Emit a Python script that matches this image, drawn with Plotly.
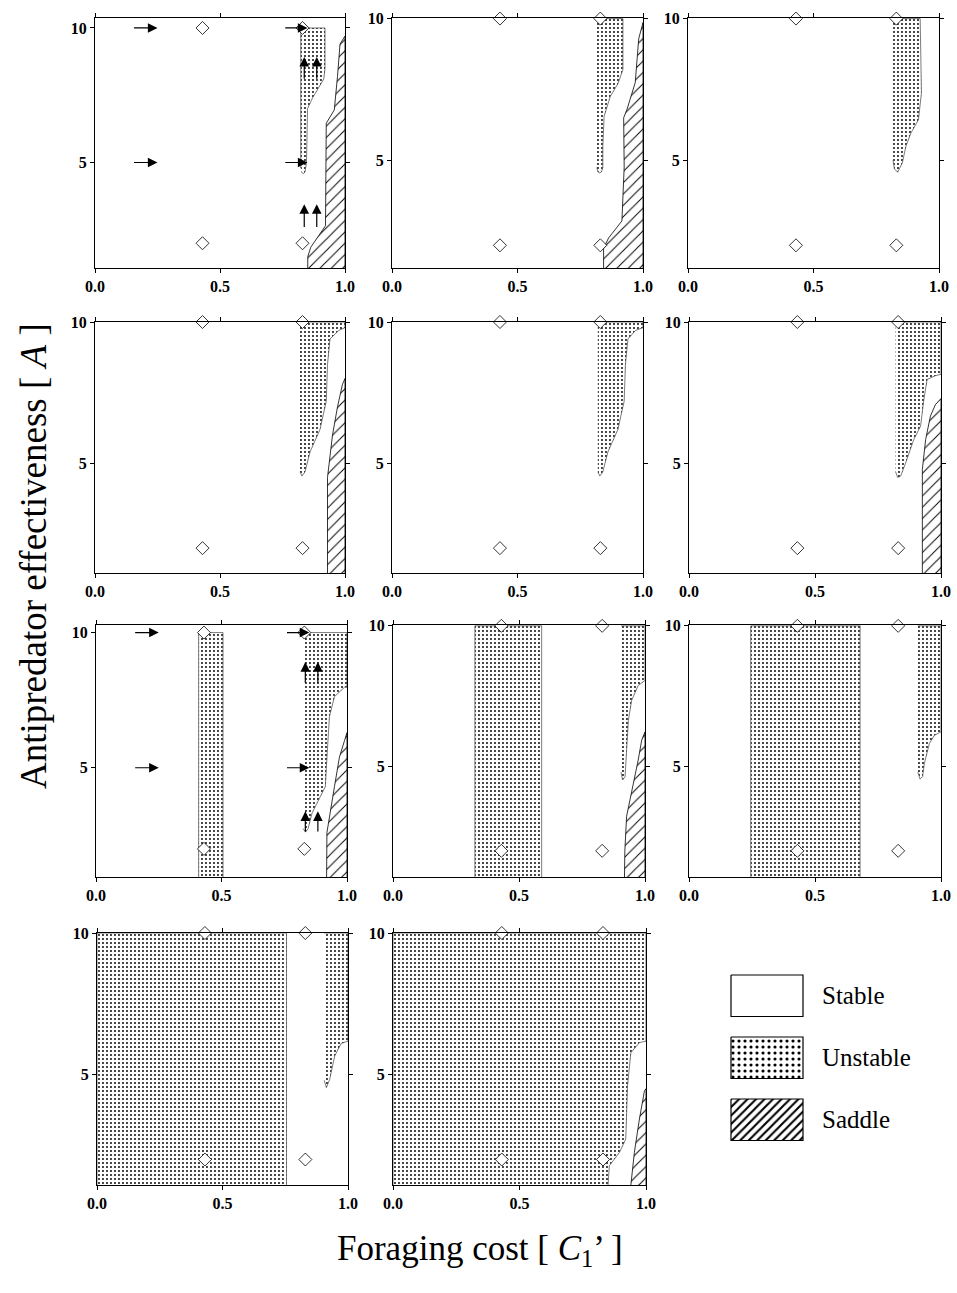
import plotly.graph_objects as go

# ---------------- data ----------------
X_TICKS = [0.0, 0.5, 1.0]
X_TICK_LABELS = ["0.0", "0.5", "1.0"]
Y_TICKS = [5, 10]
Y_TICK_LABELS = ["5", "10"]

DIAMOND_X = [0.43, 0.83, 0.43, 0.83]
DIAMOND_Y = [2, 2, 10, 10]

# panel 1
P1_UNSTABLE_X = [0.823, 0.823, 0.92, 0.92, 0.915, 0.87, 0.85, 0.848, 0.846, 0.84, 0.833, 0.826]
P1_UNSTABLE_Y = [4.8, 10, 10, 8.5, 8.1, 7.4, 7.0, 6.0, 5.0, 4.65, 4.58, 4.65]
P1_SADDLE_X = [0.851, 0.851, 0.863, 0.922, 0.925, 0.957, 0.97, 0.98, 1.0, 1.0]
P1_SADDLE_Y = [0, 1.5, 1.85, 2.65, 6.46, 6.95, 8.2, 9.4, 9.7, 0]
# panel 2
P2_UNSTABLE_X = [0.816, 0.92, 0.92, 0.9, 0.87, 0.845, 0.84, 0.84, 0.835, 0.828, 0.82, 0.816]
P2_UNSTABLE_Y = [10, 10, 8.2, 7.7, 7.26, 6.55, 5.5, 4.75, 4.6, 4.55, 4.6, 4.75]
P2_SADDLE_X = [0.843, 0.843, 0.863, 0.916, 0.925, 0.923, 0.936, 0.969, 0.983, 1.0, 1.0]
P2_SADDLE_Y = [0, 1.9, 2.26, 2.86, 4.76, 6.5, 6.79, 7.74, 9.29, 9.86, 0]
# panel 3
P3_UNSTABLE_X = [0.817, 0.925, 0.93, 0.918, 0.888, 0.868, 0.854, 0.835, 0.822, 0.817]
P3_UNSTABLE_Y = [10, 10, 7.37, 6.43, 5.96, 5.49, 4.91, 4.58, 4.7, 5.0]
# panel 4
P4_UNSTABLE_X = [0.82, 1.0, 1.0, 0.975, 0.94, 0.93, 0.925, 0.9, 0.86, 0.84, 0.828, 0.82]
P4_UNSTABLE_Y = [10, 10, 9.8, 9.7, 9.4, 8.5, 7.2, 6.2, 5.4, 4.7, 4.55, 4.7]
P4_SADDLE_X = [0.93, 0.93, 0.95, 0.97, 0.99, 1.0, 1.0]
P4_SADDLE_Y = [0, 4.5, 6.0, 7.0, 7.8, 8.0, 0]
# panel 5
P5_UNSTABLE_X = [0.82, 1.0, 1.0, 0.97, 0.94, 0.93, 0.925, 0.9, 0.86, 0.84, 0.828, 0.82]
P5_UNSTABLE_Y = [10, 10, 9.8, 9.7, 9.4, 8.5, 7.2, 6.2, 5.4, 4.7, 4.55, 4.7]
# panel 6
P6_UNSTABLE_X = [0.82, 1.0, 1.0, 0.978, 0.945, 0.932, 0.919, 0.892, 0.859, 0.84, 0.828, 0.82]
P6_UNSTABLE_Y = [10, 10, 8.15, 8.1, 7.97, 7.26, 6.32, 5.84, 5.0, 4.55, 4.5, 4.7]
P6_SADDLE_X = [0.926, 0.926, 0.939, 0.958, 0.978, 1.0, 1.0]
P6_SADDLE_Y = [0, 4.78, 5.84, 6.67, 7.08, 7.29, 0]
# panel 7
P7_STRIP_X = [0.409, 0.409, 0.506, 0.506]
P7_STRIP_Y = [0, 10, 10, 0]
P7_UNSTABLE_X = [0.825, 1.0, 1.0, 0.99, 0.95, 0.93, 0.918, 0.914, 0.861, 0.845, 0.835, 0.825]
P7_UNSTABLE_Y = [10, 10, 7.98, 7.98, 7.63, 6.89, 5.05, 4.31, 3.33, 2.75, 2.62, 2.75]
P7_SADDLE_X = [0.918, 0.92, 0.95, 0.97, 0.99, 1.0, 1.0]
P7_SADDLE_Y = [0, 2.6, 4.3, 5.4, 6.0, 6.3, 0]
# panel 8
P8_STRIP_X = [0.325, 0.325, 0.59, 0.59]
P8_STRIP_Y = [0, 10, 10, 0]
P8_UNSTABLE_X = [0.905, 1.0, 1.0, 0.973, 0.947, 0.934, 0.927, 0.921, 0.911, 0.905]
P8_UNSTABLE_Y = [10, 10, 8.06, 7.88, 7.35, 6.64, 5.58, 4.64, 4.52, 4.8]
P8_SADDLE_X = [0.917, 0.92, 0.927, 0.947, 0.973, 0.987, 1.0, 1.0]
P8_SADDLE_Y = [0, 2.0, 3.23, 4.06, 5.23, 5.94, 6.23, 0]
# panel 9
P9_STRIP_X = [0.245, 0.245, 0.679, 0.679]
P9_STRIP_Y = [0, 10, 10, 0]
P9_UNSTABLE_X = [0.908, 1.0, 1.0, 0.974, 0.954, 0.934, 0.927, 0.917, 0.908]
P9_UNSTABLE_Y = [10, 10, 6.23, 6.11, 5.82, 5.11, 4.64, 4.55, 4.8]
# panel 10
P10_STRIP_X = [0.0, 0.0, 0.755, 0.755]
P10_STRIP_Y = [0, 10, 10, 0]
P10_UNSTABLE_X = [0.905, 1.0, 1.0, 0.973, 0.947, 0.927, 0.914, 0.905]
P10_UNSTABLE_Y = [10, 10, 6.18, 6.1, 5.66, 4.83, 4.54, 4.8]
# panel 11
P11_UNSTABLE_X = [0, 0, 1.0, 1.0, 0.974, 0.94, 0.927, 0.92, 0.895, 0.855, 0.842]
P11_UNSTABLE_Y = [0, 10, 10, 6.18, 6.13, 5.77, 4.6, 2.72, 2.25, 1.78, 0]
P11_SADDLE_X = [0.927, 0.954, 0.974, 0.994, 1.0, 1.0]
P11_SADDLE_Y = [0, 2.25, 3.43, 4.43, 4.5, 0]

# arrows (tail -> head)
ARROW_H_TAIL_X = [0.15, 0.755]
ARROW_H_HEAD_X = [0.25, 0.85]
ARROW_H_Y = [10, 5]
P1_ARROW_V_X = [0.837, 0.887]
P1_ARROW_V_TAIL_Y = [2.55, 8.06]
P1_ARROW_V_HEAD_Y = [3.45, 8.92]
P7_ARROW_V_X = [0.834, 0.884]
P7_ARROW_V_TAIL_Y = [2.59, 8.09]
P7_ARROW_V_HEAD_Y = [3.39, 8.91]

LEGEND_LABELS = ["Stable", "Unstable", "Saddle"]

# ---------------- layout helpers ----------------
W, H = 957, 1293
SERIF = "Liberation Serif"

def px_x(p):
    return p / W

def px_y(p):
    return 1 - p / H

# (left, right, top, bottom) in pixels, y range
PANEL_BOX = {
    1: ((95, 345, 18, 268), [1.08, 10.37]),
    2: ((392, 643, 18, 268), [1.2, 10.02]),
    3: ((688, 939, 18, 268), [1.2, 10.02]),
    4: ((95, 345, 322, 573), [1.12, 10.0]),
    5: ((392, 643, 322, 573), [1.12, 10.0]),
    6: ((689, 941, 322, 573), [1.12, 10.0]),
    7: ((96, 347, 625, 877), [0.96, 10.28]),
    8: ((393, 645, 625, 877), [1.07, 10.03]),
    9: ((689, 941, 625, 877), [1.07, 10.03]),
    10: ((97, 348, 933, 1185), [1.1, 10.0]),
    11: ((393, 646, 933, 1185), [1.1, 10.0]),
}

PANELS = {
    1: dict(unstable=[(P1_UNSTABLE_X, P1_UNSTABLE_Y)], saddle=[(P1_SADDLE_X, P1_SADDLE_Y)]),
    2: dict(unstable=[(P2_UNSTABLE_X, P2_UNSTABLE_Y)], saddle=[(P2_SADDLE_X, P2_SADDLE_Y)]),
    3: dict(unstable=[(P3_UNSTABLE_X, P3_UNSTABLE_Y)], saddle=[]),
    4: dict(unstable=[(P4_UNSTABLE_X, P4_UNSTABLE_Y)], saddle=[(P4_SADDLE_X, P4_SADDLE_Y)]),
    5: dict(unstable=[(P5_UNSTABLE_X, P5_UNSTABLE_Y)], saddle=[]),
    6: dict(unstable=[(P6_UNSTABLE_X, P6_UNSTABLE_Y)], saddle=[(P6_SADDLE_X, P6_SADDLE_Y)]),
    7: dict(unstable=[(P7_STRIP_X, P7_STRIP_Y), (P7_UNSTABLE_X, P7_UNSTABLE_Y)], saddle=[(P7_SADDLE_X, P7_SADDLE_Y)]),
    8: dict(unstable=[(P8_STRIP_X, P8_STRIP_Y), (P8_UNSTABLE_X, P8_UNSTABLE_Y)], saddle=[(P8_SADDLE_X, P8_SADDLE_Y)]),
    9: dict(unstable=[(P9_STRIP_X, P9_STRIP_Y), (P9_UNSTABLE_X, P9_UNSTABLE_Y)], saddle=[]),
    10: dict(unstable=[(P10_STRIP_X, P10_STRIP_Y), (P10_UNSTABLE_X, P10_UNSTABLE_Y)], saddle=[]),
    11: dict(unstable=[(P11_UNSTABLE_X, P11_UNSTABLE_Y)], saddle=[(P11_SADDLE_X, P11_SADDLE_Y)]),
}

DOT_PATTERN = dict(shape=".", size=4, solidity=0.18, fgcolor="black", bgcolor="white", fgopacity=1)
HATCH_PATTERN = dict(shape="/", size=8, solidity=0.12, fgcolor="black", bgcolor="white", fgopacity=1)

fig = go.Figure()
layout = dict()

def ax_name(i, kind):
    return kind if i == 1 else f"{kind}{i}"

tick_font = dict(family=SERIF, size=16, color="black", weight="bold")

for i, ((l, r, t, b), yr) in PANEL_BOX.items():
    xa, ya = f"x{i}" if i > 1 else "x", f"y{i}" if i > 1 else "y"
    common = dict(showline=True, linecolor="black", linewidth=1, mirror="ticks",
                  ticks="outside", ticklen=4, tickcolor="black", tickwidth=1,
                  showgrid=False, zeroline=False, automargin=False, tickfont=tick_font)
    layout[ax_name(i, "xaxis")] = dict(domain=[px_x(l), px_x(r)], anchor=ya, range=[0, 1],
                                       tickvals=X_TICKS, ticktext=X_TICK_LABELS, **common)
    layout[ax_name(i, "yaxis")] = dict(domain=[px_y(b), px_y(t)], anchor=xa, range=yr,
                                       tickvals=Y_TICKS, ticktext=Y_TICK_LABELS, **common)
    p = PANELS[i]
    for (px_, py_) in p["unstable"]:
        fig.add_trace(go.Scatter(
            x=px_, y=py_, xaxis=xa, yaxis=ya, mode="lines", fill="toself",
            fillcolor="white", fillpattern=DOT_PATTERN,
            line=dict(color="#444", width=0.7), hoverinfo="skip", showlegend=False))
    for (px_, py_) in p["saddle"]:
        fig.add_trace(go.Scatter(
            x=px_, y=py_, xaxis=xa, yaxis=ya, mode="lines", fill="toself",
            fillcolor="white", fillpattern=HATCH_PATTERN,
            line=dict(color="black", width=0.8), hoverinfo="skip", showlegend=False))
    fig.add_trace(go.Scatter(
        x=DIAMOND_X, y=DIAMOND_Y, xaxis=xa, yaxis=ya, mode="markers",
        marker=dict(symbol="diamond", size=10, color="white", line=dict(color="black", width=0.8)),
        cliponaxis=False, hoverinfo="skip", showlegend=False))

annotations = []

def add_arrow(xa, ya, x0, y0, x1, y1):
    annotations.append(dict(
        xref=xa, yref=ya, axref=xa, ayref=ya, x=x1, y=y1, ax=x0, ay=y0,
        text="", showarrow=True, arrowhead=2, arrowsize=1.6, arrowwidth=1.2,
        arrowcolor="black", standoff=0, startstandoff=0))

for xa, ya, vx, vy0, vy1 in [("x", "y", P1_ARROW_V_X, P1_ARROW_V_TAIL_Y, P1_ARROW_V_HEAD_Y),
                             ("x7", "y7", P7_ARROW_V_X, P7_ARROW_V_TAIL_Y, P7_ARROW_V_HEAD_Y)]:
    for y in ARROW_H_Y:
        for x0, x1 in zip(ARROW_H_TAIL_X, ARROW_H_HEAD_X):
            add_arrow(xa, ya, x0, y, x1, y)
    for x in vx:
        for y0, y1 in zip(vy0, vy1):
            add_arrow(xa, ya, x, y0, x, y1)

# legend panel (pixel coordinate system)
layout["xaxis12"] = dict(domain=[px_x(700), px_x(957)], anchor="y12", range=[700, 957],
                         visible=False, automargin=False)
layout["yaxis12"] = dict(domain=[px_y(1160), px_y(960)], anchor="x12", range=[1160, 960],
                         visible=False, automargin=False)
legend_patterns = [None,
                   dict(shape=".", size=6, solidity=0.22, fgcolor="black", bgcolor="white", fgopacity=1),
                   dict(shape="/", size=6, solidity=0.35, fgcolor="black", bgcolor="white", fgopacity=1)]
box_l, box_r, box_h, box_top0, box_step = 731, 803, 41.5, 975, 62
for k, (lab, pat) in enumerate(zip(LEGEND_LABELS, legend_patterns)):
    t = box_top0 + k * box_step
    bx = [box_l, box_r, box_r, box_l, box_l]
    by = [t, t, t + box_h, t + box_h, t]
    tr = dict(x=bx, y=by, xaxis="x12", yaxis="y12", mode="lines", fill="toself",
              fillcolor="white", line=dict(color="black", width=1.2),
              hoverinfo="skip", showlegend=False)
    if pat:
        tr["fillpattern"] = pat
    fig.add_trace(go.Scatter(**tr))
    annotations.append(dict(xref="paper", yref="paper", x=px_x(820), y=px_y(t + box_h / 2),
                            xanchor="left", yanchor="middle", showarrow=False, text=lab,
                            font=dict(family=SERIF, size=25, color="black")))

# axis titles
annotations.append(dict(xref="paper", yref="paper", x=px_x(33), y=px_y(556),
                        xanchor="center", yanchor="middle", textangle=-90, showarrow=False,
                        text="Antipredator effectiveness [ <i>A</i> ]",
                        font=dict(family=SERIF, size=37, color="black")))
annotations.append(dict(xref="paper", yref="paper", x=px_x(480), y=px_y(1250),
                        xanchor="center", yanchor="middle", showarrow=False,
                        text="Foraging cost [ <i>C</i><sub>1</sub>’ ]",
                        font=dict(family=SERIF, size=35, color="black")))

fig.update_layout(
    width=W, height=H, margin=dict(l=0, r=0, t=0, b=0, autoexpand=False),
    paper_bgcolor="white", plot_bgcolor="white",
    annotations=annotations, showlegend=False, **layout)

fig.write_html("out.html")
